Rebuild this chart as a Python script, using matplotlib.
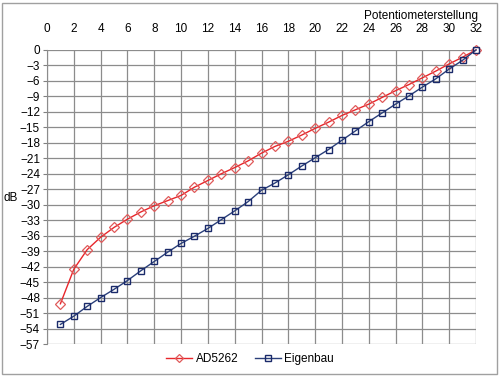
import matplotlib.pyplot as plt
from matplotlib.patches import Rectangle

plt.rcParams['font.family'] = ['Liberation Sans', 'DejaVu Sans']

# Potentiometer positions
steps = list(range(1, 33))

# Attenuation in dB
ad5262 = [-49.2, -42.5, -38.7, -36.3, -34.4, -32.8, -31.4, -30.2, -29.2, -28.2,
          -26.6, -25.3, -24.0, -22.8, -21.5, -20.0, -18.7, -17.7, -16.5, -15.2,
          -14.0, -12.7, -11.6, -10.5, -9.2, -7.9, -6.7, -5.4, -4.1, -2.7,
          -1.4, 0.0]
eigenbau = [-53.2, -51.6, -49.7, -48.0, -46.4, -44.7, -42.8, -41.0, -39.2, -37.5,
            -36.1, -34.6, -32.9, -31.2, -29.4, -27.2, -25.8, -24.2, -22.5, -20.9,
            -19.3, -17.5, -15.7, -13.9, -12.2, -10.5, -8.9, -7.2, -5.6, -3.7,
            -2.0, 0.0]

x_ticks = list(range(0, 33, 2))
y_ticks = list(range(0, -58, -3))

fig = plt.figure(figsize=(5.0, 3.77), dpi=100)
ax = fig.add_axes([0.094, 0.0875, 0.858, 0.78])

# Outer chart border
fig.patches.append(Rectangle((0.004, 0.008), 0.99, 0.984, transform=fig.transFigure,
                             fill=False, edgecolor='#a0a0a0', linewidth=1))

ax.plot(steps, ad5262, color='#e8262b', linewidth=1, marker='D', markersize=4.6,
        markerfacecolor='none', markeredgecolor='#e05a5a', markeredgewidth=0.9,
        label='AD5262', clip_on=False)
ax.plot(steps, eigenbau, color='#2a3f7a', linewidth=1, marker='s', markersize=4.2,
        markerfacecolor='none', markeredgecolor='#1a2a6a', markeredgewidth=1,
        label='Eigenbau', clip_on=False)

ax.set_xlim(0, 32)
ax.set_ylim(-57, 0)
ax.set_xticks(x_ticks)
ax.set_yticks(y_ticks)
ax.xaxis.tick_top()
ax.tick_params(axis='x', length=0, labelsize=8.5, pad=11)
ax.tick_params(axis='y', length=3, color='#808080', labelsize=8.5, pad=2)
ax.grid(True, color='#8c8c8c', linewidth=0.9)
ax.set_axisbelow(True)
for s in ax.spines.values():
    s.set_visible(False)
ax.spines['left'].set_visible(True)
ax.spines['left'].set_color('#8c8c8c')

fig.text(0.956, 0.958, 'Potentiometerstellung', ha='right', va='center', fontsize=8.5)
fig.text(0.008, 0.475, 'dB', ha='left', va='center', fontsize=8.5)

fig.legend(loc='center', bbox_to_anchor=(0.5, 0.047), ncol=2, frameon=False,
           fontsize=8.5, handlelength=2.2, handletextpad=0.3, columnspacing=1.4,
           markerscale=0.9)

fig.savefig('out.png', dpi=100)
